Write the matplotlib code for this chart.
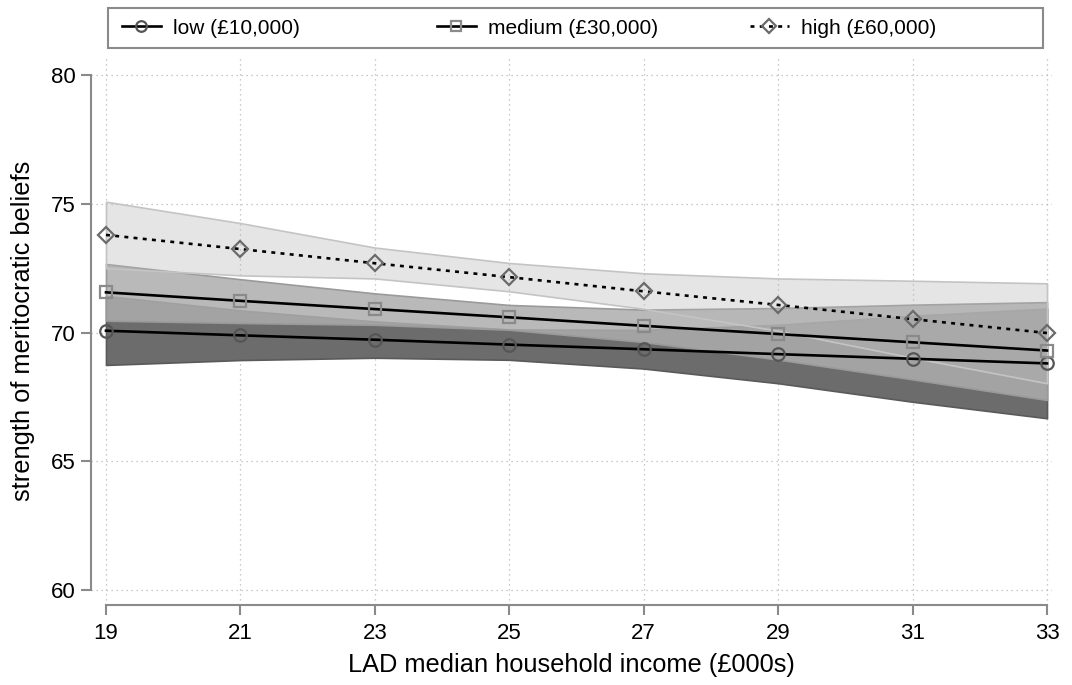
import matplotlib
matplotlib.use("Agg")
import matplotlib.pyplot as plt
from matplotlib.patches import Rectangle

plt.rcParams['font.family'] = ['Liberation Sans', 'DejaVu Sans']

# predicted meritocratic beliefs by LAD median income, for three household incomes
income = [19, 21, 23, 25, 27, 29, 31, 33]

low_fit = [70.07, 69.89, 69.72, 69.53, 69.35, 69.16, 68.98, 68.80]
low_lo = [68.74, 68.93, 69.02, 68.94, 68.60, 68.03, 67.31, 66.67]
low_hi = [71.42, 70.86, 70.43, 70.12, 70.10, 70.30, 70.65, 70.93]

med_fit = [71.56, 71.23, 70.91, 70.59, 70.26, 69.94, 69.62, 69.30]
med_lo = [70.46, 70.37, 70.30, 70.11, 69.63, 68.95, 68.18, 67.38]
med_hi = [72.66, 72.07, 71.52, 71.07, 70.89, 70.95, 71.08, 71.18]

high_fit = [73.79, 73.24, 72.69, 72.15, 71.60, 71.07, 70.52, 69.98]
high_lo = [72.50, 72.22, 72.10, 71.60, 70.92, 70.07, 69.02, 68.03]
high_hi = [75.08, 74.25, 73.30, 72.70, 72.30, 72.10, 72.01, 71.91]

labels = ['low (£10,000)', 'medium (£30,000)', 'high (£60,000)']

W, H = 1072, 685
fig = plt.figure(figsize=(W / 100, H / 100), dpi=100)
ax = fig.add_axes([91 / W, 80 / H, 961 / W, 548 / H])

ax.set_xlim(18.777, 33.074)
ax.set_ylim(59.417, 80.70)

# confidence bands, drawn low -> high so the lighter ones sit on top
ax.fill_between(income, low_lo, low_hi, facecolor='#6c6c6c', edgecolor='#5a5a5a',
                lw=1.2, zorder=2)
ax.fill_between(income, med_lo, med_hi, facecolor=(0.68, 0.68, 0.68, 0.85),
                edgecolor='#9a9a9a', lw=1.2, zorder=3)
ax.fill_between(income, high_lo, high_hi, facecolor=(0.71, 0.71, 0.71, 0.35),
                edgecolor='#c4c4c4', lw=1.2, zorder=4)

h1, = ax.plot(income, low_fit, color='black', lw=1.9, marker='o', ms=9,
              mfc='none', mec='#555555', mew=1.6, zorder=6, clip_on=False)
h2, = ax.plot(income, med_fit, color='black', lw=1.9, marker='s', ms=9,
              mfc='none', mec='#8a8a8a', mew=1.6, zorder=6, clip_on=False)
h3, = ax.plot(income, high_fit, color='black', lw=1.9, ls=(0, (1.5, 2.0)),
              marker='D', ms=8.5, mfc='none', mec='#6a6a6a', mew=1.6,
              zorder=6, clip_on=False)

ax.set_xticks(income)
ax.set_yticks([60, 65, 70, 75, 80])
ax.grid(True, ls=(0, (1, 3)), color='#b8b8b8', lw=0.9, zorder=1)

for s in ['top', 'right']:
    ax.spines[s].set_visible(False)
ax.spines['left'].set_bounds(60, 80)
ax.spines['bottom'].set_bounds(19, 33)
for s in ['left', 'bottom']:
    ax.spines[s].set_color('#8a8a8a')
    ax.spines[s].set_linewidth(1.5)
ax.tick_params(axis='both', colors='#8a8a8a', width=1.5, length=7,
               labelcolor='black', labelsize=16)
ax.tick_params(axis='x', pad=6)
ax.tick_params(axis='y', pad=4)

ax.set_xlabel('LAD median household income (£000s)', fontsize=18.3)
ax.set_ylabel('strength of meritocratic beliefs', fontsize=18.3)
ax.xaxis.set_label_coords(0.5, (605 - 653) / 548)
ax.yaxis.set_label_coords((35 - 91) / 961, 0.5)

# legend: one entry per column inside a single frame
fig.patches.append(Rectangle((108 / W, 1 - 48 / H), (1043 - 108) / W, 40 / H,
                             transform=fig.transFigure, fill=False,
                             edgecolor='#8a8a8a', lw=1.5))
for h, lab, x0 in zip([h1, h2, h3], labels, [122, 437, 750]):
    fig.legend([h], [lab], loc='center left', bbox_to_anchor=(x0 / W, 1 - 28 / H),
               frameon=False, fontsize=15, borderpad=0, borderaxespad=0,
               handlelength=1.85, handletextpad=0.6, markerscale=0.85)

fig.savefig('out.png', dpi=100, facecolor='white')
